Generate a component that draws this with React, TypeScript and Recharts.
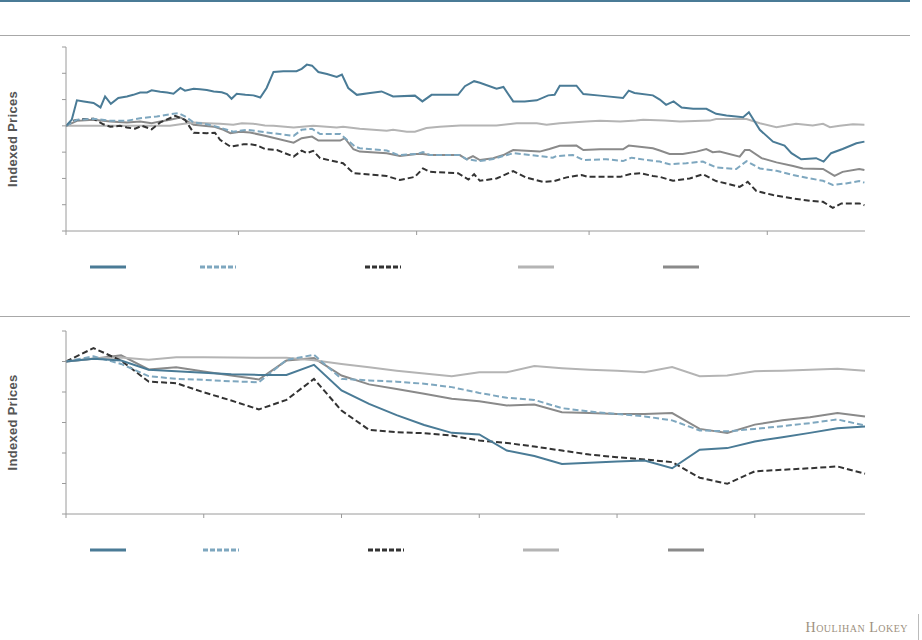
import { LineChart, Line, XAxis, YAxis } from "recharts";

// top panel: [day, indexed value] pairs
const topTeal = [
  [0, 100], [1.0, 102.3], [1.9, 109.7], [3.1, 109.3], [4.8, 108.7], [6.0, 107.0], [6.8, 111.2], [7.8, 108.4],
  [9.1, 110.6], [10.6, 111.2], [11.7, 111.8], [12.9, 112.7], [14.1, 112.7], [14.9, 113.5], [16.4, 113.0],
  [17.6, 112.7], [18.7, 112.2], [19.9, 114.4], [20.7, 113.4], [22.2, 114.1], [23.3, 113.9], [24.5, 113.6],
  [25.7, 113.1], [27.1, 112.8], [28.0, 112.1], [28.8, 110.3], [29.7, 112.2], [31.2, 111.8], [32.6, 111.6],
  [33.8, 110.8], [34.9, 114.4], [36.1, 120.5], [37.8, 120.8], [40.1, 120.8], [41.0, 121.7], [41.9, 123.3],
  [42.8, 122.9], [43.9, 120.5], [45.4, 119.7], [47.1, 118.6], [48.0, 119.5], [49.1, 114.4], [50.6, 111.8],
  [52.9, 112.5], [54.9, 113.1], [56.9, 111.2], [60.7, 111.5], [62.0, 109.3], [63.6, 111.8], [68.2, 111.8],
  [69.4, 115.1], [71.0, 117.0], [72.0, 116.4], [74.9, 114.1], [76.1, 114.8], [77.8, 109.3], [79.8, 109.3],
  [81.9, 109.7], [83.9, 111.6], [85.0, 111.8], [85.9, 115.3], [88.8, 115.3], [90.0, 112.1], [92.9, 111.5],
  [96.9, 110.6], [97.9, 113.4], [98.9, 112.5], [102.1, 111.6], [103.3, 110.0], [104.4, 108.0], [105.7, 109.3],
  [107.1, 107.0], [109.1, 106.5], [111.4, 106.5], [113.1, 104.6], [114.9, 103.9], [117.8, 103.3], [118.8, 105.2],
  [120.7, 98.5], [123.0, 94.0], [125.0, 92.5], [126.2, 89.6], [127.9, 87.3], [130.5, 87.7], [131.8, 86.4],
  [133.1, 89.6], [135.1, 91.2], [137.5, 93.4], [138.9, 94.0],
];
const topLightBlue = [
  [0, 100], [1.9, 102.3], [4.8, 102.7], [7.7, 101.9], [10.6, 101.9], [12.9, 102.9], [15.8, 103.6], [18.7, 104.6],
  [19.6, 104.8], [20.7, 103.6], [22.2, 101.3], [24.5, 100.6], [26.2, 99.7], [28.0, 98.5], [29.1, 97.8],
  [31.5, 98.5], [34.6, 97.6], [39.6, 96.2], [41.0, 98.5], [42.8, 98.9], [44.2, 96.9], [47.7, 96.9], [50.3, 92.1],
  [51.1, 91.5], [55.8, 90.6], [57.8, 88.9], [61.0, 89.3], [62.1, 90.0], [63.3, 88.9], [68.5, 88.9], [69.7, 87.3],
  [72.0, 86.6], [74.3, 87.4], [77.8, 89.6], [82.4, 88.5], [84.7, 87.9], [85.3, 88.5], [88.2, 88.9], [90.0, 87.0],
  [94.0, 87.3], [96.9, 86.6], [98.4, 87.9], [101.0, 87.0], [103.3, 86.4], [105.0, 85.4], [107.9, 85.8],
  [110.8, 86.4], [113.1, 84.2], [116.6, 83.6], [118.4, 86.6], [120.7, 83.8], [123.6, 82.9], [126.5, 81.3],
  [129.4, 80.0], [131.7, 79.1], [133.4, 77.5], [135.7, 78.1], [138.0, 79.0], [138.9, 78.4],
];
const topDark = [
  [0, 100], [1.3, 102.0], [3.1, 102.6], [4.8, 102.7], [6.5, 100.6], [7.7, 99.7], [9.4, 100], [10.6, 99.4],
  [12.0, 98.9], [13.2, 100], [14.9, 98.7], [16.4, 101.3], [19.0, 103.8], [20.7, 102.3], [22.2, 97.4],
  [24.5, 97.2], [25.9, 97.4], [26.8, 94.7], [28.6, 92.1], [30.9, 93.0], [32.0, 93.0], [33.2, 92.6], [34.6, 91.2],
  [36.7, 90.8], [39.6, 88.3], [41.0, 90.6], [41.9, 89.6], [43.0, 90.5], [44.2, 87.7], [48.2, 85.8], [50.0, 82.0],
  [55.8, 80.9], [58.1, 79.4], [60.7, 80.6], [62.1, 83.8], [63.3, 82.5], [68.2, 82.0], [70.0, 79.6], [71.0, 81.6],
  [72.0, 79.1], [74.9, 80.0], [77.8, 82.8], [80.1, 80.3], [83.0, 78.7], [84.9, 79.0], [87.1, 80.4], [89.7, 81.3],
  [90.8, 80.6], [96.4, 80.6], [98.2, 81.7], [99.9, 82.0], [102.1, 80.9], [103.3, 80.6], [105.6, 79.1],
  [108.5, 80.0], [110.8, 81.6], [113.1, 79.0], [117.2, 76.8], [118.6, 78.7], [120.1, 75.2], [123.0, 73.7],
  [126.5, 72.4], [129.4, 71.5], [131.7, 71.1], [133.4, 68.8], [134.9, 70.5], [138.0, 70.5], [138.9, 69.8],
];
const topLightGray = [
  [0, 100], [18.1, 100], [19.9, 100.6], [22.2, 101.3], [24.5, 101.0], [26.8, 100.8], [29.1, 100.4], [30.6, 101.0],
  [32.6, 100.8], [34.6, 100.1], [36.1, 100], [39.6, 99.4], [43.0, 100], [47.1, 99.4], [48.2, 99.7], [51.1, 98.9],
  [55.8, 98.1], [56.9, 98.5], [59.3, 97.8], [60.7, 97.8], [62.7, 99.2], [65.0, 99.7], [68.6, 100.1],
  [74.9, 100.1], [78.4, 101.0], [81.9, 101.0], [83.6, 100.4], [85.9, 101.0], [90.5, 101.7], [92.9, 101.9],
  [96.4, 101.7], [99.2, 102.0], [100.4, 102.3], [104.1, 102.0], [106.8, 101.7], [112.0, 102.0], [113.1, 102.6],
  [118.4, 102.6], [120.7, 101.0], [123.6, 99.5], [125.3, 100.1], [127.0, 100.8], [129.9, 100.1], [131.7, 100.8],
  [132.9, 99.5], [134.6, 100], [136.9, 100.6], [138.9, 100.4],
];
const topGray = [
  [0, 100], [1.9, 101.9], [4.8, 102.3], [7.7, 101.7], [10.6, 101.3], [12.9, 101.7], [14.9, 101.0], [16.4, 101.7],
  [18.1, 102.3], [19.9, 103.2], [21.0, 101.9], [22.2, 100.4], [25.7, 99.7], [27.4, 98.5], [28.6, 97.2],
  [30.3, 97.8], [32.0, 97.5], [34.6, 96.2], [39.6, 93.6], [41.0, 95.3], [42.8, 95.9], [43.9, 94.4], [47.7, 94.4],
  [48.5, 95.3], [50.0, 91.1], [51.1, 90.2], [55.8, 89.6], [58.1, 88.5], [61.0, 89.3], [62.1, 89.3], [63.3, 88.9],
  [68.5, 88.9], [69.7, 87.3], [70.8, 88.5], [72.0, 87.0], [74.3, 87.7], [76.1, 88.9], [77.8, 90.8], [80.1, 90.5],
  [82.4, 90.2], [84.1, 91.2], [85.9, 92.4], [88.8, 92.5], [90.0, 90.8], [92.9, 91.1], [96.9, 91.1], [97.9, 92.5],
  [102.1, 91.5], [103.3, 90.6], [105.0, 89.3], [107.3, 89.3], [109.7, 90.2], [111.4, 91.2], [112.5, 90.0],
  [113.7, 90.2], [117.2, 88.3], [118.1, 90.8], [118.9, 90.8], [121.0, 87.7], [123.6, 86.1], [126.5, 84.7],
  [128.2, 83.8], [131.7, 83.6], [133.7, 81.0], [135.1, 82.5], [138.0, 83.6], [138.9, 83.2],
];
const topTicksX = [0, 30, 61, 91, 122];
const topTicksY = [60, 70, 80, 90, 100, 110, 120, 130];

// bottom panel: 30 periods
const bottomTeal = [100, 100.9, 100.3, 97.3, 96.8, 96.3, 95.8, 95.6, 95.6, 98.9, 90.5, 86.1, 82.4, 79.2, 76.6, 76.1, 70.8, 69.0, 66.4, 66.8, 67.2, 67.5, 65.0, 71.1, 71.6, 73.8, 75.2, 76.6, 78.1, 78.7];
const bottomLightBlue = [100, 101.7, 99.2, 95.2, 94.3, 94.0, 93.5, 93.2, 100.5, 102.2, 94.3, 93.8, 93.4, 92.7, 91.6, 89.7, 88.1, 87.4, 84.7, 83.6, 82.8, 82.0, 80.7, 77.4, 77.1, 77.9, 78.8, 79.8, 81.0, 79.0];
const bottomDark = [100, 104.4, 100.3, 93.4, 92.9, 89.9, 87.2, 84.3, 87.4, 94.3, 83.9, 77.6, 76.8, 76.5, 75.7, 74.1, 73.3, 72.1, 70.8, 69.5, 68.6, 67.9, 67.0, 61.9, 59.9, 64.0, 64.5, 65.0, 65.6, 63.2];
const bottomLightGray = [100, 101.0, 101.3, 100.6, 101.4, 101.4, 101.3, 101.2, 101.2, 100.4, 99.2, 98.1, 97.0, 96.1, 95.2, 96.5, 96.5, 98.5, 97.8, 97.3, 97.0, 96.5, 98.2, 95.2, 95.4, 96.8, 97.0, 97.3, 97.6, 97.0];
const bottomGray = [100, 100.9, 102.0, 97.4, 98.1, 96.7, 95.4, 94.1, 100.3, 101.1, 95.4, 92.5, 91.0, 89.4, 87.8, 87.0, 85.6, 85.9, 83.4, 83.1, 82.8, 82.8, 83.1, 77.9, 76.6, 79.3, 80.7, 81.7, 83.1, 82.0];
const bottomTicksX = [0, 5, 10, 15, 20, 25];
const bottomTicksY = [50, 60, 70, 80, 90, 100, 110];

const series = [
  { key: "teal", color: "#4a7b96", dash: undefined, top: topTeal, bottom: bottomTeal },
  { key: "lightBlue", color: "#7ea7bf", dash: "6 3", top: topLightBlue, bottom: bottomLightBlue },
  { key: "dark", color: "#333333", dash: "6 3", top: topDark, bottom: bottomDark },
  { key: "lightGray", color: "#b4b4b4", dash: undefined, top: topLightGray, bottom: bottomLightGray },
  { key: "gray", color: "#8a8a8a", dash: undefined, top: topGray, bottom: bottomGray },
];

const bottomData = bottomTeal.map((_, i) => {
  const row: Record<string, number> = { i };
  series.forEach((s) => (row[s.key] = s.bottom[i]));
  return row;
});

const axisColor = "#9a9a9a";
const font = "'Liberation Sans', Arial, sans-serif";
const noLabel = () => "";

const yLabel = {
  value: "Indexed Prices",
  angle: -90,
  position: "insideLeft" as const,
  offset: 12,
  style: { textAnchor: "middle", fill: "#555", fontWeight: "bold", fontSize: 13, fontFamily: font, letterSpacing: 0.3 },
};

function Swatches({ xs }: { xs: number[] }) {
  return (
    <svg width={922} height={10} style={{ display: "block" }}>
      {series.map((s, k) => (
        <line
          key={s.key}
          x1={xs[k]}
          x2={xs[k] + 36}
          y1={5}
          y2={5}
          stroke={s.color}
          strokeWidth={3}
          strokeDasharray={s.dash ? "5 2" : undefined}
        />
      ))}
    </svg>
  );
}

export default function App() {
  return (
    <div style={{ position: "absolute", left: 0, top: 0, width: 922, height: 640, background: "#fff", fontFamily: font }}>
      <div style={{ position: "absolute", left: 0, top: 0, width: 910, height: 2, background: "#4a7b96" }} />
      <div style={{ position: "absolute", left: 0, top: 35, width: 910, height: 1, background: "#a8a8a8" }} />
      <div style={{ position: "absolute", left: 0, top: 316, width: 910, height: 1, background: "#a8a8a8" }} />

      <div style={{ position: "absolute", left: 0, top: 0 }}>
        <LineChart width={922} height={300} margin={{ top: 47, right: 57, bottom: 39, left: 0 }}>
          <XAxis
            dataKey="d"
            type="number"
            domain={[0, 139]}
            ticks={topTicksX}
            tickFormatter={noLabel}
            tickSize={4}
            height={30}
            stroke={axisColor}
            allowDataOverflow
          />
          <YAxis
            type="number"
            domain={[60, 130]}
            ticks={topTicksY}
            tickFormatter={noLabel}
            tickSize={4}
            width={66}
            stroke={axisColor}
            label={yLabel}
          />
          {[...series].reverse().map((s) => (
            <Line
              key={s.key}
              data={s.top.map(([d, v]) => ({ d, v }))}
              dataKey="v"
              type="linear"
              stroke={s.color}
              strokeWidth={2}
              strokeDasharray={s.dash}
              dot={false}
              isAnimationActive={false}
            />
          ))}
        </LineChart>
      </div>
      <div style={{ position: "absolute", left: 0, top: 262 }}>
        <Swatches xs={[90, 200, 365, 518, 663]} />
      </div>

      <div style={{ position: "absolute", left: 0, top: 300 }}>
        <LineChart width={922} height={300} data={bottomData} margin={{ top: 31, right: 57, bottom: 56, left: 0 }}>
          <XAxis
            dataKey="i"
            type="number"
            domain={[0, 29]}
            ticks={bottomTicksX}
            tickFormatter={noLabel}
            tickSize={4}
            height={30}
            stroke={axisColor}
          />
          <YAxis
            type="number"
            domain={[50, 110]}
            ticks={bottomTicksY}
            tickFormatter={noLabel}
            tickSize={4}
            width={66}
            stroke={axisColor}
            label={yLabel}
          />
          {[...series].reverse().map((s) => (
            <Line
              key={s.key}
              dataKey={s.key}
              type="linear"
              stroke={s.color}
              strokeWidth={2}
              strokeDasharray={s.dash}
              dot={false}
              isAnimationActive={false}
            />
          ))}
        </LineChart>
      </div>
      <div style={{ position: "absolute", left: 0, top: 545 }}>
        <Swatches xs={[90, 203, 368, 523, 668]} />
      </div>

      <div
        style={{
          position: "absolute",
          right: 14,
          top: 620,
          fontFamily: "'Liberation Serif', 'DejaVu Serif', serif",
          fontVariant: "small-caps",
          fontSize: 14,
          letterSpacing: 0.5,
          color: "#9d9080",
        }}
      >
        Houlihan Lokey
      </div>
      <div style={{ position: "absolute", left: 918, top: 614, width: 1, height: 26, background: "#bbb" }} />
    </div>
  );
}
